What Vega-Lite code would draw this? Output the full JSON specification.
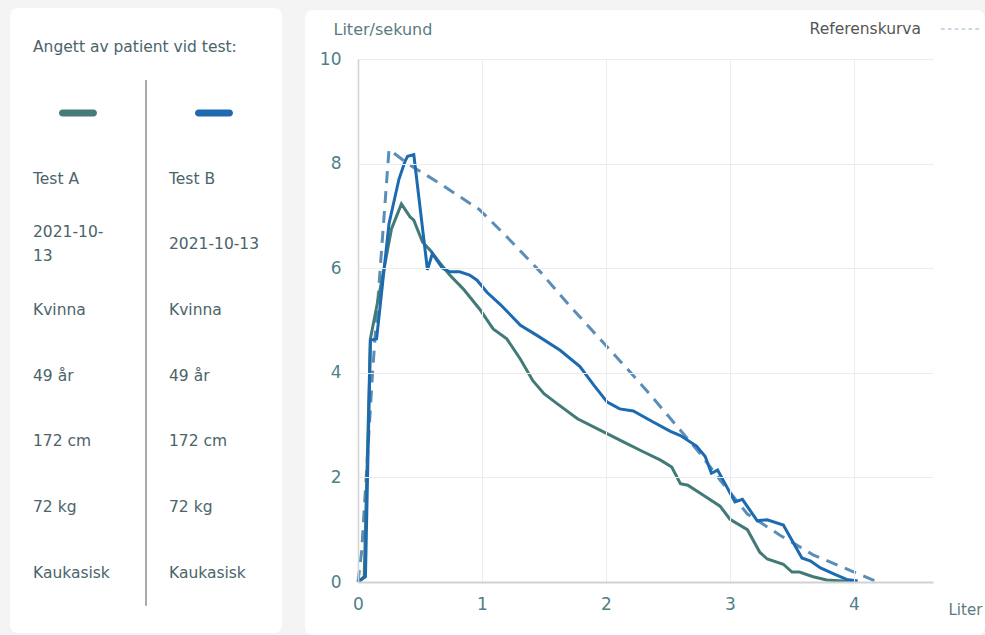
{
  "$schema": "https://vega.github.io/schema/vega-lite/v6.json",
  "background": "#f4f4f4",
  "padding": {"left": 10, "top": 8, "right": 0, "bottom": 0},
  "spacing": 23,
  "config": {"view": {"stroke": null}, "font": "DejaVu Sans"},
  "resolve": {"scale": {"color": "independent", "strokeDash": "independent"}, "legend": {"color": "independent", "strokeDash": "independent"}},
  "datasets": {
    "panel": [
      {"rad": "rubrik", "kolumn": "Test A", "text": "Angett av patient vid test:"},
      {"rad": "linje", "kolumn": "Test A", "text": ""},
      {"rad": "linje", "kolumn": "Test B", "text": ""},
      {"rad": "test", "kolumn": "Test A", "text": "Test A"},
      {"rad": "test", "kolumn": "Test B", "text": "Test B"},
      {"rad": "datum", "kolumn": "Test A", "text": "2021-10-\n13"},
      {"rad": "datum", "kolumn": "Test B", "text": "2021-10-13"},
      {"rad": "kon", "kolumn": "Test A", "text": "Kvinna"},
      {"rad": "kon", "kolumn": "Test B", "text": "Kvinna"},
      {"rad": "alder", "kolumn": "Test A", "text": "49 år"},
      {"rad": "alder", "kolumn": "Test B", "text": "49 år"},
      {"rad": "langd", "kolumn": "Test A", "text": "172 cm"},
      {"rad": "langd", "kolumn": "Test B", "text": "172 cm"},
      {"rad": "vikt", "kolumn": "Test A", "text": "72 kg"},
      {"rad": "vikt", "kolumn": "Test B", "text": "72 kg"},
      {"rad": "etnicitet", "kolumn": "Test A", "text": "Kaukasisk"},
      {"rad": "etnicitet", "kolumn": "Test B", "text": "Kaukasisk"}
    ],
    "flode": [
      {"kurva": "Referenskurva", "volym": 0, "flode": 0},
      {"kurva": "Referenskurva", "volym": 0.03, "flode": 0.6},
      {"kurva": "Referenskurva", "volym": 0.12, "flode": 4.1},
      {"kurva": "Referenskurva", "volym": 0.25, "flode": 8.27},
      {"kurva": "Referenskurva", "volym": 0.4, "flode": 8.0},
      {"kurva": "Referenskurva", "volym": 0.64, "flode": 7.65},
      {"kurva": "Referenskurva", "volym": 0.98, "flode": 7.12},
      {"kurva": "Referenskurva", "volym": 1.2, "flode": 6.6},
      {"kurva": "Referenskurva", "volym": 1.47, "flode": 5.93},
      {"kurva": "Referenskurva", "volym": 1.7, "flode": 5.3},
      {"kurva": "Referenskurva", "volym": 1.95, "flode": 4.65},
      {"kurva": "Referenskurva", "volym": 2.2, "flode": 4.0},
      {"kurva": "Referenskurva", "volym": 2.35, "flode": 3.6},
      {"kurva": "Referenskurva", "volym": 2.6, "flode": 2.9},
      {"kurva": "Referenskurva", "volym": 2.76, "flode": 2.45},
      {"kurva": "Referenskurva", "volym": 2.92, "flode": 1.95},
      {"kurva": "Referenskurva", "volym": 3.14, "flode": 1.3},
      {"kurva": "Referenskurva", "volym": 3.4, "flode": 0.9},
      {"kurva": "Referenskurva", "volym": 3.67, "flode": 0.52},
      {"kurva": "Referenskurva", "volym": 3.94, "flode": 0.25},
      {"kurva": "Referenskurva", "volym": 4.19, "flode": 0},
      {"kurva": "Test A", "volym": 0, "flode": 0},
      {"kurva": "Test A", "volym": 0.05, "flode": 0.1},
      {"kurva": "Test A", "volym": 0.1, "flode": 4.65},
      {"kurva": "Test A", "volym": 0.19, "flode": 5.74},
      {"kurva": "Test A", "volym": 0.27, "flode": 6.75},
      {"kurva": "Test A", "volym": 0.35, "flode": 7.23},
      {"kurva": "Test A", "volym": 0.42, "flode": 6.98},
      {"kurva": "Test A", "volym": 0.45, "flode": 6.92},
      {"kurva": "Test A", "volym": 0.52, "flode": 6.5},
      {"kurva": "Test A", "volym": 0.58, "flode": 6.35},
      {"kurva": "Test A", "volym": 0.66, "flode": 6.1},
      {"kurva": "Test A", "volym": 0.74, "flode": 5.87},
      {"kurva": "Test A", "volym": 0.85, "flode": 5.6},
      {"kurva": "Test A", "volym": 0.98, "flode": 5.22},
      {"kurva": "Test A", "volym": 1.09, "flode": 4.84},
      {"kurva": "Test A", "volym": 1.2, "flode": 4.65},
      {"kurva": "Test A", "volym": 1.31, "flode": 4.26},
      {"kurva": "Test A", "volym": 1.41, "flode": 3.85},
      {"kurva": "Test A", "volym": 1.5, "flode": 3.6},
      {"kurva": "Test A", "volym": 1.6, "flode": 3.42},
      {"kurva": "Test A", "volym": 1.77, "flode": 3.12},
      {"kurva": "Test A", "volym": 1.98, "flode": 2.87},
      {"kurva": "Test A", "volym": 2.14, "flode": 2.68},
      {"kurva": "Test A", "volym": 2.3, "flode": 2.49},
      {"kurva": "Test A", "volym": 2.44, "flode": 2.33},
      {"kurva": "Test A", "volym": 2.53, "flode": 2.2},
      {"kurva": "Test A", "volym": 2.6, "flode": 1.88},
      {"kurva": "Test A", "volym": 2.66, "flode": 1.85},
      {"kurva": "Test A", "volym": 2.81, "flode": 1.62},
      {"kurva": "Test A", "volym": 2.92, "flode": 1.45},
      {"kurva": "Test A", "volym": 3.0, "flode": 1.2},
      {"kurva": "Test A", "volym": 3.14, "flode": 1.0},
      {"kurva": "Test A", "volym": 3.24, "flode": 0.57},
      {"kurva": "Test A", "volym": 3.3, "flode": 0.44},
      {"kurva": "Test A", "volym": 3.43, "flode": 0.34},
      {"kurva": "Test A", "volym": 3.5, "flode": 0.19},
      {"kurva": "Test A", "volym": 3.56, "flode": 0.19},
      {"kurva": "Test A", "volym": 3.67, "flode": 0.1},
      {"kurva": "Test A", "volym": 3.78, "flode": 0.04},
      {"kurva": "Test A", "volym": 3.91, "flode": 0.02},
      {"kurva": "Test A", "volym": 4.0, "flode": 0.02},
      {"kurva": "Test B", "volym": 0, "flode": 0},
      {"kurva": "Test B", "volym": 0.06, "flode": 0.1},
      {"kurva": "Test B", "volym": 0.1, "flode": 4.62},
      {"kurva": "Test B", "volym": 0.15, "flode": 4.65},
      {"kurva": "Test B", "volym": 0.2, "flode": 5.75},
      {"kurva": "Test B", "volym": 0.25, "flode": 6.85},
      {"kurva": "Test B", "volym": 0.33, "flode": 7.7},
      {"kurva": "Test B", "volym": 0.38, "flode": 8.05},
      {"kurva": "Test B", "volym": 0.4, "flode": 8.14},
      {"kurva": "Test B", "volym": 0.45, "flode": 8.17},
      {"kurva": "Test B", "volym": 0.56, "flode": 5.97},
      {"kurva": "Test B", "volym": 0.6, "flode": 6.28},
      {"kurva": "Test B", "volym": 0.68, "flode": 6.0},
      {"kurva": "Test B", "volym": 0.74, "flode": 5.93},
      {"kurva": "Test B", "volym": 0.82, "flode": 5.93},
      {"kurva": "Test B", "volym": 0.9, "flode": 5.87},
      {"kurva": "Test B", "volym": 0.96, "flode": 5.77},
      {"kurva": "Test B", "volym": 1.04, "flode": 5.54},
      {"kurva": "Test B", "volym": 1.15, "flode": 5.3},
      {"kurva": "Test B", "volym": 1.31, "flode": 4.91},
      {"kurva": "Test B", "volym": 1.44, "flode": 4.72},
      {"kurva": "Test B", "volym": 1.63, "flode": 4.43},
      {"kurva": "Test B", "volym": 1.79, "flode": 4.12},
      {"kurva": "Test B", "volym": 1.9, "flode": 3.77},
      {"kurva": "Test B", "volym": 2.01, "flode": 3.44},
      {"kurva": "Test B", "volym": 2.11, "flode": 3.31},
      {"kurva": "Test B", "volym": 2.22, "flode": 3.27},
      {"kurva": "Test B", "volym": 2.38, "flode": 3.06},
      {"kurva": "Test B", "volym": 2.52, "flode": 2.88},
      {"kurva": "Test B", "volym": 2.6, "flode": 2.8},
      {"kurva": "Test B", "volym": 2.73, "flode": 2.6},
      {"kurva": "Test B", "volym": 2.8, "flode": 2.4},
      {"kurva": "Test B", "volym": 2.85, "flode": 2.08},
      {"kurva": "Test B", "volym": 2.9, "flode": 2.14},
      {"kurva": "Test B", "volym": 3.04, "flode": 1.53},
      {"kurva": "Test B", "volym": 3.1, "flode": 1.58},
      {"kurva": "Test B", "volym": 3.22, "flode": 1.17},
      {"kurva": "Test B", "volym": 3.3, "flode": 1.19},
      {"kurva": "Test B", "volym": 3.43, "flode": 1.09},
      {"kurva": "Test B", "volym": 3.58, "flode": 0.46},
      {"kurva": "Test B", "volym": 3.65, "flode": 0.4},
      {"kurva": "Test B", "volym": 3.73, "flode": 0.27},
      {"kurva": "Test B", "volym": 3.85, "flode": 0.14},
      {"kurva": "Test B", "volym": 3.94, "flode": 0.05},
      {"kurva": "Test B", "volym": 4.03, "flode": 0.02}
    ]
  },
  "hconcat": [
    {
      "width": 272,
      "height": 625,
      "view": {"fill": "white", "cornerRadius": 8, "stroke": null},
      "data": {"name": "panel"},
      "layer": [
        {
          "data": {"values": [{}]},
          "mark": {"type": "rule", "color": "#8c8c8c", "strokeWidth": 1.5},
          "encoding": {
            "x": {"datum": "Test B", "type": "nominal", "bandPosition": 0,
                  "scale": {"type": "band", "domain": ["Test A", "Test B"], "paddingInner": 0, "paddingOuter": 0}, "axis": null},
            "y": {"datum": "linje", "type": "nominal", "bandPosition": 0,
                  "scale": {"type": "band", "domain": ["rubrik", "linje", "test", "datum", "kon", "alder", "langd", "vikt", "etnicitet"], "paddingInner": 0, "paddingOuter": 0.2565, "align": 0.19}, "axis": null},
            "y2": {"datum": "etnicitet", "bandPosition": 1}
          }
        },
        {
          "transform": [{"filter": "datum.rad == 'linje'"}],
          "mark": {"type": "tick", "orient": "horizontal", "size": 38, "thickness": 7, "cornerRadius": 3.5, "opacity": 1},
          "encoding": {
            "x": {"field": "kolumn", "type": "nominal", "axis": null},
            "y": {"field": "rad", "type": "nominal", "axis": null},
            "color": {"field": "kolumn", "type": "nominal", "scale": {"domain": ["Test A", "Test B"], "range": ["#467b7b", "#1e69af"]}, "legend": null}
          }
        },
        {
          "transform": [{"filter": "datum.rad != 'linje' && indexof(datum.text, '\\n') < 0"}],
          "mark": {"type": "text", "align": "left", "baseline": "middle", "dx": 23, "fontSize": 15.5, "color": "#4b646a"},
          "encoding": {
            "x": {"field": "kolumn", "type": "nominal", "bandPosition": 0, "axis": null},
            "y": {"field": "rad", "type": "nominal", "axis": null},
            "text": {"field": "text"}
          }
        },
        {
          "transform": [{"filter": "indexof(datum.text, '\\n') >= 0"}],
          "mark": {"type": "text", "align": "left", "baseline": "middle", "dx": 23, "dy": -12, "fontSize": 15.5, "color": "#4b646a", "lineBreak": "\n", "lineHeight": 24},
          "encoding": {
            "x": {"field": "kolumn", "type": "nominal", "bandPosition": 0, "axis": null},
            "y": {"field": "rad", "type": "nominal", "axis": null},
            "text": {"field": "text"}
          }
        }
      ]
    },
    {
      "resolve": {"legend": {"strokeDash": "independent", "color": "independent"}},
      "spacing": 0,
      "vconcat": [
        {
          "width": 575,
          "height": 1,
          "data": {"values": []},
          "mark": {"type": "point", "opacity": 0},
          "encoding": {}
        },
        {
          "width": 575,
          "height": 523,
          "view": {"fill": null, "stroke": null},
          "data": {"name": "flode"},
          "layer": [
            {
              "data": {"values": [{}]},
              "mark": {"type": "rect", "color": "white", "cornerRadius": 8},
              "encoding": {
                "x": {"datum": -0.427, "type": "quantitative", "scale": {"domain": [0, 4.637], "nice": false, "zero": false}},
                "x2": {"datum": 5.056},
                "y": {"datum": -1.013, "type": "quantitative", "scale": {"domain": [0, 10], "nice": false}},
                "y2": {"datum": 10.937}
              }
            },
            {
              "transform": [{"filter": "datum.kurva == 'Referenskurva'"}],
              "mark": {"type": "line", "strokeWidth": 3, "color": "#5a8db8"},
              "encoding": {
                "x": {"field": "volym", "type": "quantitative"},
                "y": {"field": "flode", "type": "quantitative"},
                "strokeDash": {"field": "kurva", "type": "nominal",
                  "scale": {"domain": ["Referenskurva"], "range": [[12, 8]]},
                  "legend": {"orient": "none", "legendX": 582, "legendY": -50, "title": null,
                    "symbolType": "M-1,0H-0.8M-0.64,0H-0.44M-0.28,0H-0.08M0.08,0H0.28M0.44,0H0.64M0.8,0H1",
                    "symbolSize": 1444, "labelOffset": -59, "labelAlign": "right",
                    "symbolStrokeColor": "#9fb9cf", "symbolStrokeWidth": 1.5, "symbolOpacity": 0.7,
                    "labelFontSize": 15.5, "labelColor": "#555555"}}
              }
            },
            {
              "transform": [{"filter": "datum.kurva != 'Referenskurva'"}],
              "mark": {"type": "line", "strokeWidth": 3},
              "encoding": {
                "x": {"field": "volym", "type": "quantitative", "title": "Liter",
                  "axis": {"values": [0, 1, 2, 3, 4], "format": "d", "grid": true, "zindex": 1, "ticks": false,
                    "labelFontSize": 17, "labelColor": "#4d8088", "labelPadding": 14, "labelFlush": false,
                    "domainColor": "#d2d2d2", "domainWidth": 2, "gridColor": "#ececec",
                    "titleX": 590, "titleY": 27, "titleAlign": "left", "titleBaseline": "middle",
                    "titleFontSize": 15, "titleFontWeight": "normal", "titleColor": "#5b7b80"}},
                "y": {"field": "flode", "type": "quantitative", "title": "Liter/sekund",
                  "axis": {"values": [0, 2, 4, 6, 8, 10], "format": "d", "grid": true, "zindex": 1, "ticks": false,
                    "labelFontSize": 17, "labelColor": "#4d8088", "labelPadding": 17, "labelFlush": false,
                    "domainColor": "#d2d2d2", "domainWidth": 1.5, "gridColor": "#ececec",
                    "titleAngle": 0, "titleX": -25, "titleY": -30, "titleAlign": "left", "titleBaseline": "middle",
                    "titleFontSize": 16, "titleFontWeight": "normal", "titleColor": "#5b7b80"}},
                "color": {"field": "kurva", "type": "nominal", "scale": {"domain": ["Test A", "Test B"], "range": ["#427a78", "#1c6ab0"]}, "legend": null}
              }
            }
          ]
        }
      ]
    }
  ]
}
